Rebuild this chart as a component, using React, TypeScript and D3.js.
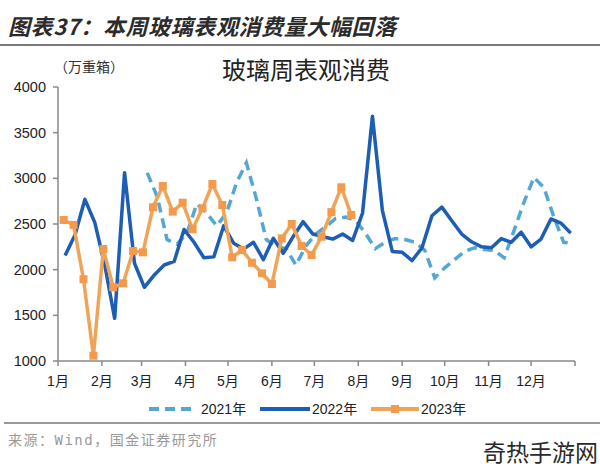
import React, { useEffect } from "react";
import * as d3 from "d3";

const MONTH_LABELS = ["1月", "2月", "3月", "4月", "5月", "6月", "7月", "8月", "9月", "10月", "11月", "12月"];
const MONTH_START_DAYS = [0, 31, 59, 90, 120, 151, 181, 212, 243, 273, 304, 334, 365];
const Y_TICKS = [1000, 1500, 2000, 2500, 3000, 3500, 4000];

const WEEK_DAYS = 7;
const FIRST_DAY_2021 = 63;
const FIRST_DAY_2022 = 5;
const FIRST_DAY_2023 = 4;

const VALUES_2021 = [3060, 2800, 2330, 2280, 2400, 2720, 2620, 2480, 2620, 2950, 3170, 2780, 2330, 2250, 2230, 2050, 2260, 2390, 2470, 2560, 2575, 2540, 2400, 2230, 2300, 2340, 2330, 2300, 2210, 1910, 2020, 2110, 2200, 2240, 2220, 2210, 2130, 2430, 2740, 3010, 2900, 2580, 2300, 2290];
const VALUES_2022 = [2155, 2380, 2770, 2515, 2051, 1467, 3062, 2070, 1807, 1942, 2051, 2090, 2440, 2300, 2130, 2140, 2480, 2290, 2225, 2300, 2110, 2343, 2180, 2361, 2525, 2390, 2361, 2335, 2390, 2320, 2620, 3680, 2650, 2200, 2190, 2100, 2240, 2590, 2685, 2535, 2390, 2305, 2250, 2240, 2340, 2300, 2410, 2250, 2335, 2555, 2510, 2400];
const VALUES_2023 = [2544, 2490, 1895, 1058, 2226, 1807, 1851, 2204, 2190, 2683, 2916, 2635, 2733, 2442, 2672, 2938, 2708, 2135, 2215, 2076, 1960, 1843, 2343, 2500, 2260, 2160, 2360, 2630, 2902, 2599];

const SERIES_NAMES = ["2021年", "2022年", "2023年"];

const C2021 = "#56a6d3";
const C2022 = "#1d5db3";
const C2023 = "#f0a458";
const CMARK = "#f39a4c";

const FONT = "'Liberation Sans', 'Noto Sans CJK SC', sans-serif";
const CJK = "'Noto Sans CJK SC', 'Liberation Sans', sans-serif";

type P = { day: number; v: number };
const toPoints = (first: number, vals: number[]): P[] =>
  vals.map((v, i) => ({ day: first + i * WEEK_DAYS, v }));

export default function App() {
  useEffect(() => {
    document.body.style.margin = "0";
  }, []);

  const W = 600, H = 468;
  const x = d3.scaleLinear().domain([0, 365]).range([58, 575]);
  const y = d3.scaleLinear().domain([1000, 4000]).range([361, 87]);
  const line = d3.line<P>().x((d) => x(d.day)).y((d) => y(d.v));

  const s21 = toPoints(FIRST_DAY_2021, VALUES_2021);
  const s22 = toPoints(FIRST_DAY_2022, VALUES_2022);
  const s23 = toPoints(FIRST_DAY_2023, VALUES_2023);

  const legendY = 409;

  return (
    <svg width={W} height={H} style={{ display: "block", background: "#fff" }}>
      <rect x={0} y={0} width={W} height={H} fill="#fff" />
      <text x={8} y={35} fontFamily={CJK} fontSize={22} fontWeight="bold" fontStyle="italic" fill="#2b2b2b" letterSpacing={0.6}>
        图表37：本周玻璃表观消费量大幅回落
      </text>
      <line x1={0} x2={600} y1={45} y2={45} stroke="#7a7a7a" strokeWidth={2} />

      <text x={54} y={72} fontFamily={CJK} fontSize={14} fill="#333">（万重箱）</text>
      <text x={306} y={79} textAnchor="middle" fontFamily={CJK} fontSize={24} fill="#222">玻璃周表观消费</text>

      {/* y axis */}
      <line x1={x(0)} x2={x(0)} y1={y(4000)} y2={y(1000)} stroke="#888" strokeWidth={1.5} />
      {Y_TICKS.map((t) => (
        <g key={t}>
          <line x1={x(0) - 5} x2={x(0)} y1={y(t)} y2={y(t)} stroke="#888" strokeWidth={1.5} />
          <text x={46} y={y(t) + 5} textAnchor="end" fontFamily={FONT} fontSize={14.5} fill="#222">{t}</text>
        </g>
      ))}

      {/* x axis */}
      <line x1={x(0)} x2={x(365)} y1={y(1000)} y2={y(1000)} stroke="#888" strokeWidth={1.5} />
      {MONTH_START_DAYS.map((d) => (
        <line key={d} x1={x(d)} x2={x(d)} y1={y(1000)} y2={y(1000) + 5} stroke="#888" strokeWidth={1.5} />
      ))}
      {MONTH_LABELS.map((m, i) => (
        <text key={m} x={x(MONTH_START_DAYS[i])} y={386} textAnchor="middle" fontFamily={FONT} fontSize={14} fill="#222">{m}</text>
      ))}

      {/* series */}
      <path d={line(s21) || ""} fill="none" stroke={C2021} strokeWidth={3.5} strokeDasharray="10,6" />
      <path d={line(s22) || ""} fill="none" stroke={C2022} strokeWidth={3.5} strokeLinejoin="round" />
      <path d={line(s23) || ""} fill="none" stroke={C2023} strokeWidth={3.5} strokeLinejoin="round" />
      {s23.map((p, i) => (
        <rect key={i} x={x(p.day) - 4} y={y(p.v) - 4} width={8} height={8} fill={CMARK} />
      ))}

      {/* legend */}
      <line x1={149} x2={194} y1={legendY} y2={legendY} stroke={C2021} strokeWidth={4} strokeDasharray="10,6" />
      <text x={201} y={legendY + 5} fontFamily={FONT} fontSize={14} fill="#222">{SERIES_NAMES[0]}</text>
      <line x1={260} x2={310} y1={legendY} y2={legendY} stroke={C2022} strokeWidth={4} />
      <text x={312} y={legendY + 5} fontFamily={FONT} fontSize={14} fill="#222">{SERIES_NAMES[1]}</text>
      <line x1={371} x2={419} y1={legendY} y2={legendY} stroke={C2023} strokeWidth={4} />
      <rect x={391} y={legendY - 4} width={8} height={8} fill={CMARK} />
      <text x={421} y={legendY + 5} fontFamily={FONT} fontSize={14} fill="#222">{SERIES_NAMES[2]}</text>

      <line x1={4} x2={600} y1={423} y2={423} stroke="#9a9a9a" strokeWidth={2} />
      <text x={8} y={445} fontFamily="'DejaVu Sans Mono', 'Noto Sans CJK SC', monospace" fontSize={14} fill="#9a9a9a" letterSpacing={1.5}>来源：Wind，国金证券研究所</text>
      <text x={598} y={461} textAnchor="end" fontFamily={CJK} fontSize={23} fill="#2a2a2a">奇热手游网</text>
    </svg>
  );
}
